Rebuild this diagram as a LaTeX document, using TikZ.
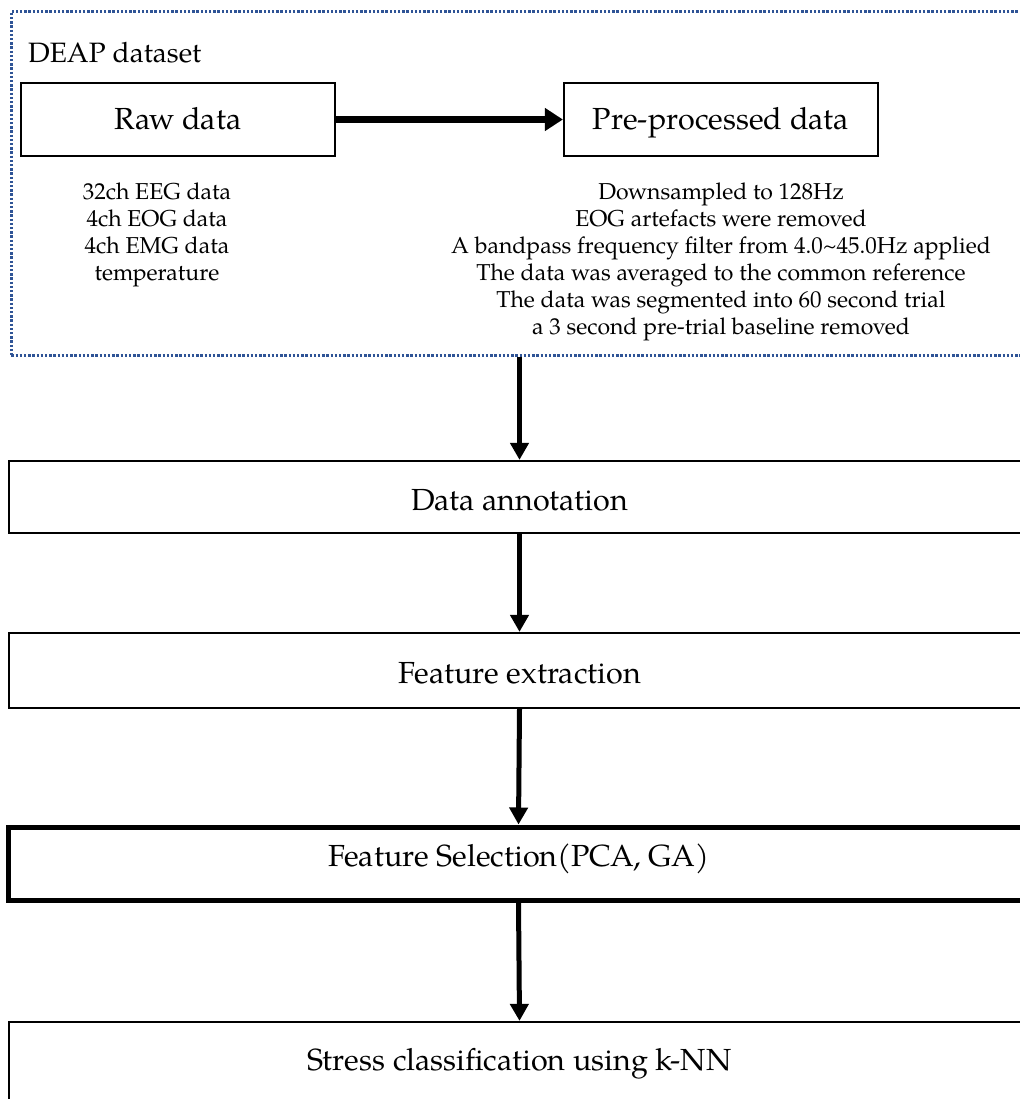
\documentclass[tikz,border=0pt]{standalone}
\usepackage{fontspec}
\setmainfont{TeX Gyre Pagella}
\usetikzlibrary{arrows.meta}
\definecolor{dotblue}{RGB}{47,84,150}
\tikzset{
  box/.style={draw=black, line width=2.2pt, fill=white, inner sep=0pt, text depth=0pt, text height=21pt, font=\fontsize{30.5}{35}\selectfont},
  smallbox/.style={box, minimum width=314pt, minimum height=73pt},
  widebox/.style={box, minimum width=1021pt},
  thickbox/.style={widebox, line width=5pt},
  dotbox/.style={draw=dotblue, line width=2.6pt, dash pattern=on 2.4pt off 1.8pt, inner sep=0pt},
  notes/.style={align=center, inner sep=0pt, font=\fontsize{23}{27}\selectfont},
  arr/.style={line width=5pt, -{Triangle[length=17pt,width=18pt]}},
  harr/.style={line width=6.5pt, -{Triangle[length=18pt,width=22pt]}},
}
\begin{document}
\begin{tikzpicture}[x=1pt,y=-1pt]
\useasboundingbox (0,0) rectangle (1019,1099);
% dataset frame
\node[dotbox, minimum width=1020pt, minimum height=344pt, anchor=north west] (deap) at (10,10) {};
\node[anchor=base west, inner sep=0pt, font=\fontsize{28}{32}\selectfont] (title) at (28,63) {DEAP dataset};
\node[smallbox] (raw) at (178,119.5) {Raw data};
\node[smallbox] (pre) at (721,119.5) {Pre-processed data};
\node[notes] (rawnotes) at (157,235) {32ch EEG data\\4ch EOG data\\4ch EMG data\\temperature};
\node[notes] (prenotes) at (721,262) {Downsampled to 128Hz\\EOG artefacts were removed\\A bandpass frequency filter from 4.0\textasciitilde45.0Hz applied\\The data was averaged to the common reference\\The data was segmented into 60 second trial\\a 3 second pre-trial baseline removed};
% pipeline boxes
\node[widebox, minimum height=72pt, text height=27pt] (ann) at (519.5,497) {Data annotation};
\node[widebox, minimum height=75pt, text height=25pt] (feat) at (519.5,670.5) {Feature extraction};
\node[thickbox, minimum height=73pt, text height=5pt] (sel) at (518.5,863.5) {Feature Selection(PCA, GA)};
\node[widebox, minimum height=80pt, text height=17pt] (cls) at (519.5,1062) {Stress classification using k-NN};
% connectors
\draw[harr] (raw.east) -- (pre.west);
\draw[arr] (ann.north |- deap.south) -- (ann.north);
\draw[arr] (ann.south) -- (feat.north);
\draw[arr] (feat.south) -- (sel.north);
\draw[arr] (sel.south) -- (cls.north);
\end{tikzpicture}
\end{document}
